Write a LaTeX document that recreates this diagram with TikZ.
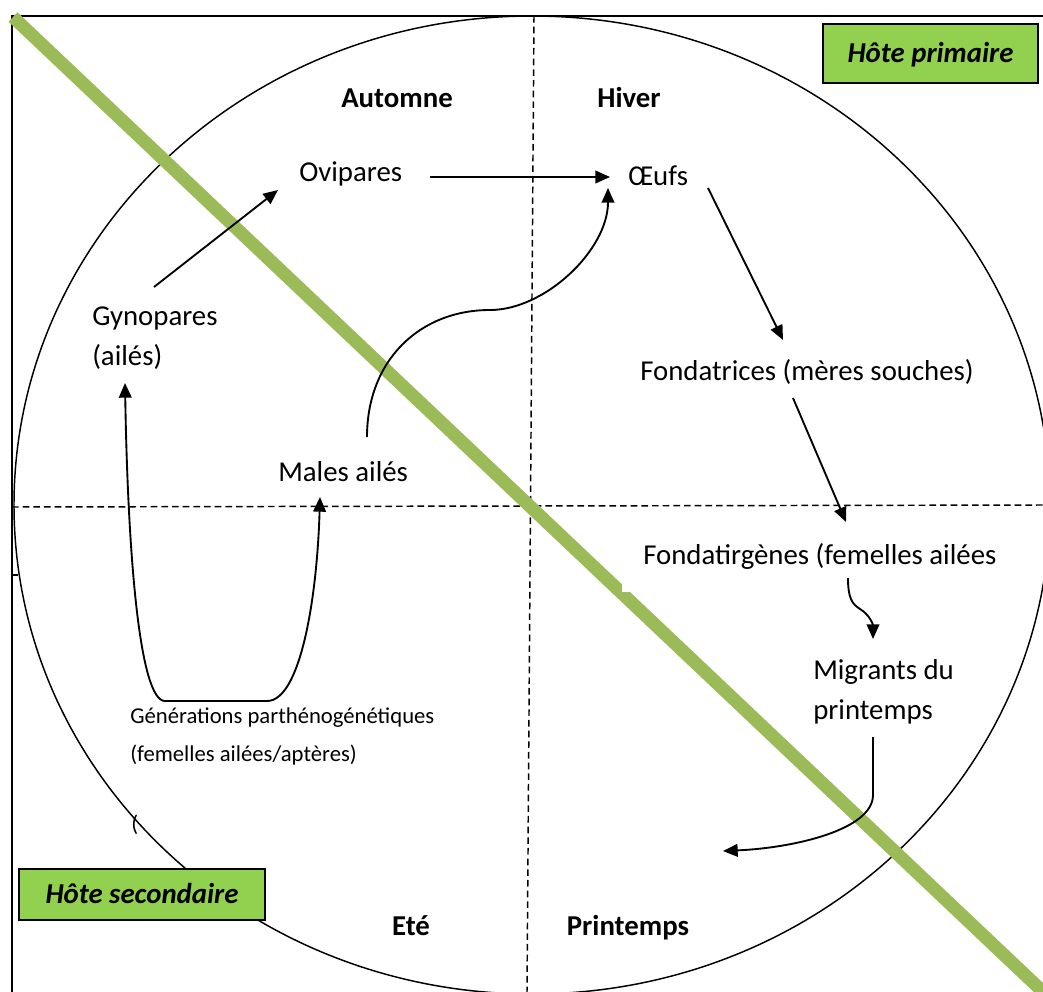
\documentclass[tikz,border=0pt]{standalone}
\usepackage{fontspec}
\setmainfont{Carlito}
\usetikzlibrary{arrows.meta,calc}
\definecolor{lineGreen}{HTML}{9BBB59}
\definecolor{boxGreen}{HTML}{92D050}
\begin{document}
\begin{tikzpicture}[x=0.75pt,y=-0.75pt,
  lbl/.style={inner sep=0pt, font=\fontsize{21.6pt}{30pt}\selectfont},
  lblb/.style={inner sep=0pt, font=\fontsize{21.6pt}{30pt}\selectfont\bfseries},
  smalllbl/.style={inner sep=0pt, font=\fontsize{17pt}{28.5pt}\selectfont},
  arr/.style={line width=1.4pt, -{Triangle[length=11pt,width=9.5pt]}},
  darr/.style={line width=1.4pt, {Triangle[length=11pt,width=9.5pt]}-{Triangle[length=11pt,width=9.5pt]}},
  hostbox/.style={draw=black, line width=1.5pt, fill=boxGreen, inner sep=0pt,
    font=\fontsize{21.6pt}{30pt}\selectfont\bfseries\itshape, text height=14pt, text depth=0pt},
  dashline/.style={line width=1.1pt, dash pattern=on 5pt off 3pt},
  frameline/.style={line width=1.5pt},
]
\clip (0,0) rectangle (1043,992);
% frame
\draw[frameline] (12,992) -- (12,15.5) -- (1043,15.5);
\draw[line width=1.1pt] (12,575) -- (18,575);
% circle
\draw[line width=1.1pt] (532,505) ellipse [x radius=388.5pt, y radius=366.75pt];
% season dividers
\draw[dashline] (534,16) -- (527,992);
\draw[dashline] (12,507) -- (1043,505);
% host divider
\draw[draw=lineGreen, line width=9.75pt] (13,17) -- (1245,1183);
\fill[white] (622,582) rectangle (640,591.5);
% labels
\node[lblb, anchor=base] (aut) at (397,107) {Automne};
\node[lblb, anchor=base] (hiv) at (629,107) {Hiver};
\node[lblb, anchor=base] (ete) at (411,935) {Eté};
\node[lblb, anchor=base] (pri) at (628,935) {Printemps};
\node[lbl, anchor=base west] (ovi) at (299,181) {Ovipares};
\node[lbl, anchor=base west] (oeu) at (628,185) {Œufs};
\node[lbl, anchor=base west, align=left] (gyn) at (92,365) {Gynopares\\(ailés)};
\node[lbl, anchor=base west] (mal) at (278,481) {Males ailés};
\node[lbl, anchor=base west] (fon) at (640,380) {Fondatrices (mères souches)};
\node[lbl, anchor=base west] (fog) at (643,564) {Fondatirgènes (femelles ailées};
\node[lbl, anchor=base west, align=left] (mig) at (813,719) {Migrants du\\printemps};
\node[smalllbl, anchor=base west, align=left] (gen) at (130,761) {Générations parthénogénétiques\\(femelles ailées/aptères)};
\node[smalllbl, anchor=base west] (par) at (131,831) {(};
\coordinate (sprg) at (723,851);
% arrows
\draw[arr] ($(gyn.base west)+(62,-78)$) -- ($(ovi.base west)+(-21,9)$);
\draw[arr] ($(ovi.base west)+(131,-4)$) -- ($(oeu.base west)+(-18,-8)$);
\draw[arr] ($(mal.base west)+(89,-44)$) .. controls +(0,-77) and +(-70,0) .. (490,310)
  .. controls +(55,0) and +(0,62) .. ($(oeu.base west)+(-20,3)$);
\draw[arr] ($(oeu.base west)+(80,3)$) -- ($(fon.base west)+(143,-40)$);
\draw[arr] ($(fon.base west)+(153,18)$) -- ($(fog.base west)+(203,-42)$);
\draw[arr] ($(fog.base west)+(205,14)$) .. controls +(0,20) and +(-8,-5) .. (860,609)
  .. controls +(10,6) and +(0,-14) .. ($(mig.base west)+(60,-80)$);
\draw[arr] ($(mig.base west)+(60,18)$) -- ++(0,58) .. controls +(0,35) and +(70,-3) .. (sprg);
\draw[darr] ($(gyn.base west)+(33,18)$) .. controls +(3,177) and +(-25,0) .. ($(gen.base west)+(35,-60)$)
  -- ($(gen.base west)+(137,-60)$) .. controls +(33,0) and +(-3,103) .. ($(mal.base west)+(42,16)$);
% host boxes
\node[hostbox, minimum width=161.25pt, minimum height=44.25pt] (hp) at (930.5,53.5) {Hôte primaire};
\node[hostbox, minimum width=184.5pt, minimum height=38.25pt] (hs) at (142,894.5) {Hôte secondaire};
\end{tikzpicture}
\end{document}
